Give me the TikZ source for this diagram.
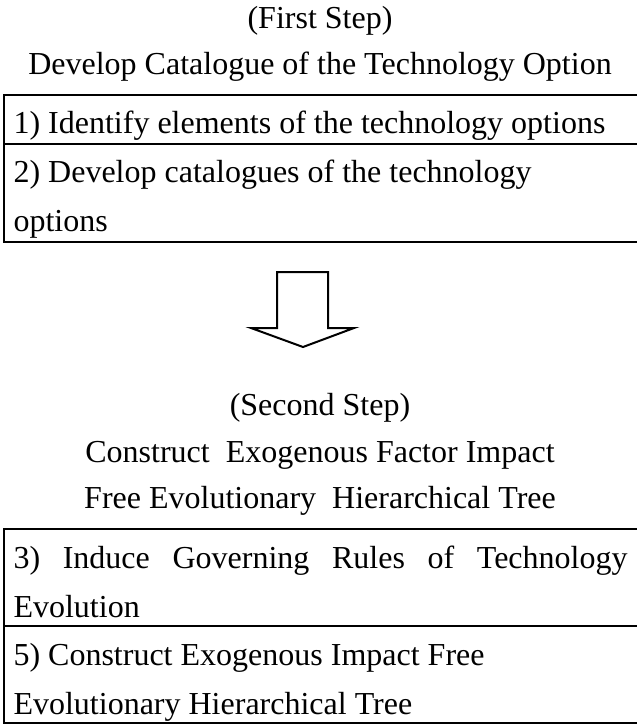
\documentclass[tikz,border=0pt]{standalone}
\usepackage{fontspec}
\setmainfont{Liberation Serif}
\begin{document}
\begin{tikzpicture}[x=0.375pt,y=-0.375pt,
  rule/.style={line width=0.75pt,line cap=rect},
  head/.style={anchor=base,inner sep=0pt,font=\fontsize{12}{14}\selectfont},
  cell/.style={anchor=base west,inner sep=0pt,font=\fontsize{12}{14}\selectfont},
  blockarrow/.style={line width=0.75pt,line join=miter}]
\useasboundingbox (0,0) rectangle (636,725);

% first step heading
\node[head] (h1a) at (320,28) {(First Step)};
\node[head] (h1b) at (320,74) {Develop Catalogue of the Technology Option};

% first table
\draw[rule] (4,95) -- (640,95);
\draw[rule] (4,144) -- (640,144);
\draw[rule] (4,242) -- (640,242);
\draw[rule] (4,95) -- (4,242);
\node[cell] (r1) at (13,133) {1) Identify elements of the technology options};
\node[cell] (r2a) at (13,182) {2) Develop catalogues of the technology};
\node[cell] (r2b) at (13,231) {options};

% block arrow between the steps
\draw[blockarrow] (277,272) -- (328,272) -- (328,328) -- (354,328) -- (303,347)
  -- (251,328) -- (277,328) -- cycle;

% second step heading
\node[head] (h2a) at (320,415) {(Second Step)};
\node[head] (h2b) at (320,462) {Construct\ \ Exogenous Factor Impact};
\node[head] (h2c) at (320,508) {Free Evolutionary\ \ Hierarchical Tree};

% second table
\draw[rule] (4,529) -- (640,529);
\draw[rule] (4,626) -- (640,626);
\draw[rule] (4,723) -- (640,723);
\draw[rule] (4,529) -- (4,723);
\node[cell] (r3a) at (13,568) {\makebox[614\dimexpr0.375pt\relax][s]{3) Induce Governing Rules of Technology}};
\node[cell] (r3b) at (13,617) {Evolution};
\node[cell] (r5a) at (13,665) {5) Construct Exogenous Impact Free};
\node[cell] (r5b) at (13,714) {Evolutionary Hierarchical Tree};
\end{tikzpicture}
\end{document}
